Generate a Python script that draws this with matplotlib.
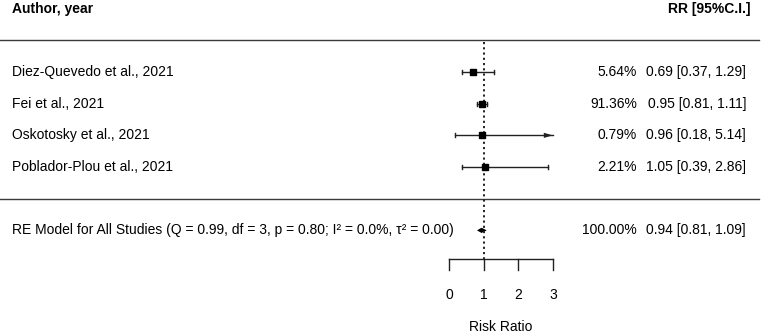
import matplotlib
matplotlib.use("Agg")
import matplotlib.pyplot as plt
from matplotlib.patches import Polygon

plt.rcParams['font.family'] = ['Liberation Sans', 'DejaVu Sans']

# ---- data ----
studies = ["Diez-Quevedo et al., 2021", "Fei et al., 2021",
           "Oskotosky et al., 2021", "Poblador-Plou et al., 2021"]
rr = [0.69, 0.95, 0.96, 1.05]
lower = [0.37, 0.81, 0.18, 0.39]
upper = [1.29, 1.11, 5.14, 2.86]
weights = ["5.64%", "91.36%", "0.79%", "2.21%"]
summary_label = "RE Model for All Studies (Q = 0.99, df = 3, p = 0.80; I² = 0.0%, τ² = 0.00)"
summary_rr = 0.94
summary_lo = 0.81
summary_hi = 1.09
summary_weight = "100.00%"
xticks = [0, 1, 2, 3]
alim = (0, 3)
xlabel = "Risk Ratio"

W, H = 762, 334
fig = plt.figure(figsize=(W / 100, H / 100), dpi=100)
ax = fig.add_axes([0, 0, 1, 1])
ax.axis("off")

# coordinate mapping (x in RR units, y in row units)
px0, ppu = 449.0, 34.6
ax.set_xlim(-px0 / ppu, (W - px0) / ppu)
y0px, rowpx = 198.7, 31.67
ax.set_ylim((y0px - H) / rowpx, y0px / rowpx)

def xpx(p):
    return (p - px0) / ppu

def ypx(p):
    return (y0px - p) / rowpx

k = len(studies)
rows = list(range(k, 0, -1))
fs = 10.0
lc = "#222222"

xl, xr = ax.get_xlim()
# horizontal rules
ax.plot([xl, xpx(759)], [k + 1, k + 1], color="#3a3a3a", lw=1.0)
ax.plot([xl, xpx(759)], [0, 0], color="#3a3a3a", lw=1.0)

# reference line
ax.plot([1, 1], [k + 0.95, ypx(259)], color=lc, lw=1.4,
        linestyle=(0, (1.1, 1.6)))

cap = 2.0 / rowpx
for r, m, lo, hi in zip(rows, rr, lower, upper):
    lo_c = max(lo, alim[0])
    hi_c = min(hi, alim[1])
    ax.plot([lo_c, hi_c], [r, r], color=lc, lw=1.0)
    if lo >= alim[0]:
        ax.plot([lo, lo], [r - cap, r + cap], color=lc, lw=1.0)
    if hi <= alim[1]:
        ax.plot([hi, hi], [r - cap, r + cap], color=lc, lw=1.0)
    else:
        ah_len = 9 / ppu
        ah_w = 2.6 / rowpx
        ax.add_patch(Polygon([[hi_c, r], [hi_c - ah_len, r + ah_w],
                              [hi_c - ah_len, r - ah_w]], closed=True,
                             color=lc, lw=0))
    ax.plot([m], [r], marker="s", markersize=4.9, color="black", mec="black")

# summary diamond
dh = 2.6 / rowpx
ax.add_patch(Polygon([[summary_lo, -1], [summary_rr, -1 + dh],
                      [summary_hi, -1], [summary_rr, -1 - dh]],
                     closed=True, color="black", lw=0))

# x axis
ay = ypx(259)
ty = ypx(270)
ax.plot([xticks[0], xticks[-1]], [ay, ay], color=lc, lw=1.0)
for t in xticks:
    ax.plot([t, t], [ay, ty], color=lc, lw=1.0)
    ax.text(t, ypx(295), str(t), ha="center", va="center", fontsize=fs)
ax.text(1.5, ypx(327), xlabel, ha="center", va="center", fontsize=fs)

# text columns
lx = xpx(12)
wx = xpx(637)
cx = xpx(746)
ax.text(lx, k + 2, "Author, year", ha="left", va="center", fontsize=fs,
        fontweight="bold")
ax.text(xpx(750), k + 2, "RR [95%C.I.]", ha="right", va="center",
        fontsize=fs, fontweight="bold")
for r, s, w, m, lo, hi in zip(rows, studies, weights, rr, lower, upper):
    ax.text(lx, r, s, ha="left", va="center", fontsize=fs)
    ax.text(wx, r, w, ha="right", va="center", fontsize=fs)
    ax.text(cx, r, f"{m:.2f} [{lo:.2f}, {hi:.2f}]", ha="right",
            va="center", fontsize=fs)
ax.text(lx, -1, summary_label, ha="left", va="center", fontsize=fs)
ax.text(wx, -1, summary_weight, ha="right", va="center", fontsize=fs)
ax.text(cx, -1, f"{summary_rr:.2f} [{summary_lo:.2f}, {summary_hi:.2f}]",
        ha="right", va="center", fontsize=fs)

fig.savefig("out.png", dpi=100, facecolor="white")
